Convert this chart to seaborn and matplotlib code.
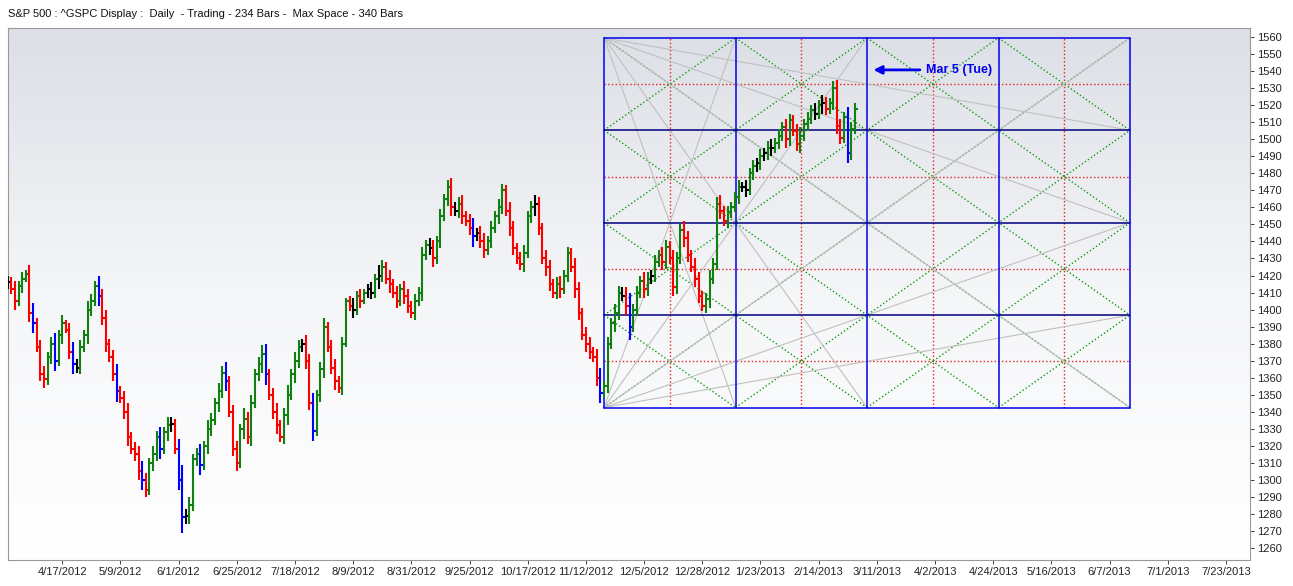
import numpy as np
import matplotlib
matplotlib.use("Agg")
import matplotlib.pyplot as plt
import seaborn as sns

# daily closes of ^GSPC, 234 bars
closes = [
    1416, 1412, 1405, 1414, 1418, 1421, 1398, 1392, 1378, 1362,
    1359, 1372, 1380, 1370, 1385, 1392, 1388, 1375, 1368, 1366,
    1378, 1385, 1400, 1405, 1414, 1408, 1395, 1380, 1372, 1362,
    1352, 1348, 1340, 1325, 1318, 1315, 1305, 1300, 1294, 1310,
    1315, 1325, 1318, 1328, 1332, 1333, 1318, 1300, 1278, 1279,
    1285, 1312, 1315, 1309, 1320, 1330, 1335, 1345, 1352, 1363,
    1358, 1340, 1318, 1310, 1330, 1336, 1325, 1345, 1362, 1368,
    1374, 1362, 1350, 1340, 1332, 1325, 1338, 1350, 1362, 1370,
    1378, 1380, 1370, 1345, 1329, 1350, 1365, 1390, 1378, 1366,
    1358, 1354, 1380, 1405, 1402, 1400, 1408, 1405, 1410, 1412,
    1410, 1418, 1420, 1425, 1418, 1415, 1410, 1405, 1412, 1408,
    1402, 1398, 1405, 1410, 1432, 1438, 1436, 1430, 1440, 1455,
    1465, 1472, 1460, 1458, 1462, 1455, 1452, 1448, 1443, 1445,
    1440, 1435, 1440, 1448, 1455, 1460, 1470, 1458, 1448, 1436,
    1430, 1427, 1433, 1455, 1460, 1462, 1448, 1430, 1425, 1415,
    1410, 1415, 1412, 1420, 1433, 1425, 1412, 1398, 1385, 1380,
    1375, 1372, 1360, 1351, 1355, 1380, 1392, 1398, 1410, 1408,
    1402, 1390, 1400, 1410, 1417, 1412, 1418, 1420, 1428, 1432,
    1428, 1437, 1430, 1413, 1430, 1447, 1442, 1432, 1425, 1418,
    1408, 1402, 1406, 1418, 1427, 1462, 1458, 1452, 1457, 1460,
    1466, 1472, 1472, 1470, 1480, 1484, 1486, 1490, 1492, 1495,
    1495, 1498, 1502, 1507, 1500, 1511, 1505, 1497, 1502, 1509,
    1512, 1517, 1515, 1520, 1521, 1518, 1521, 1530, 1508, 1501,
    1513, 1492, 1506, 1518,
]
# extra range beyond open/close for each bar
wicks = [
    4, 3, 5, 3, 4, 2, 5, 6, 3, 4,
    5, 3, 4, 6, 3, 5, 2, 4, 6, 3,
    4, 3, 5, 4, 3, 6, 4, 5, 3, 4,
    6, 3, 4, 5, 3, 4, 5, 6, 4, 3,
    5, 4, 6, 3, 5, 4, 3, 6, 9, 4,
    5, 3, 4, 6, 3, 5, 4, 3, 5, 4,
    6, 3, 4, 5, 3, 6, 4, 5, 3, 4,
    5, 6, 3, 4, 5, 3, 4, 6, 3, 5,
    4, 3, 5, 4, 6, 3, 4, 5, 3, 4,
    5, 3, 4, 2, 3, 5, 3, 4, 2, 3,
    4, 3, 6, 4, 3, 5, 3, 4, 3, 5,
    4, 3, 4, 3, 5, 3, 4, 5, 3, 4,
    3, 4, 5, 3, 4, 5, 3, 4, 6, 3,
    4, 5, 3, 4, 3, 5, 4, 3, 5, 4,
    3, 4, 5, 3, 4, 5, 4, 3, 5, 4,
    3, 4, 5, 3, 4, 3, 5, 4, 3, 5,
    4, 3, 5, 6, 3, 4, 3, 5, 4, 3,
    5, 8, 3, 4, 3, 5, 4, 3, 4, 3,
    5, 4, 3, 5, 4, 3, 5, 4, 3, 5,
    4, 3, 4, 5, 3, 4, 5, 3, 4, 3,
    3, 4, 3, 4, 3, 4, 3, 4, 3, 4,
    5, 3, 4, 3, 5, 4, 3, 4, 5, 3,
    4, 3, 4, 3, 5, 4, 3, 4, 5, 4,
    3, 6, 4, 3,
]
x_ticks = [15, 31, 47, 63, 79, 95, 111, 127, 143, 159, 175, 191, 207,
           223, 239, 255, 271, 287, 303, 319, 335]
x_labels = ["4/17/2012", "5/9/2012", "6/1/2012", "6/25/2012", "7/18/2012",
            "8/9/2012", "8/31/2012", "9/25/2012", "10/17/2012", "11/12/2012",
            "12/5/2012", "12/28/2012", "1/23/2013", "2/14/2013", "3/11/2013",
            "4/2/2013", "4/24/2013", "5/16/2013", "6/7/2013", "7/1/2013",
            "7/23/2013"]
# gann box: start bar, length in bars, price low/high
box_start, box_len = 164, 144.6
box_lo, box_hi = 1342.5, 1559.5

sns.set_theme(style="white")
plt.rcParams["font.family"] = ["Liberation Sans", "DejaVu Sans"]

fig = plt.figure(figsize=(12.93, 5.86), dpi=100)
ax = fig.add_axes([8 / 1293, 26 / 586, 1242 / 1293, 532 / 586])
xmin, xmax = 0.1, 341.6
ymin, ymax = 1253, 1565.3

# background gradient
grad = np.linspace(0, 1, 256).reshape(-1, 1)
cmap = matplotlib.colors.LinearSegmentedColormap.from_list("bg", ["#ffffff", "#f5f6f8", "#dcdfe6"])
ax.imshow(grad, aspect="auto", cmap=cmap, origin="lower",
          extent=[xmin, xmax, ymin, ymax], zorder=0)

# gann box
cw = box_len / 4
ch = (box_hi - box_lo) / 4
def bx(u):
    return box_start + u * cw
def by(v):
    return box_lo + v * ch

for k in np.arange(0.5, 4, 1):
    ax.plot([bx(k), bx(k)], [box_lo, box_hi], color="#e02020", ls=":", lw=1, zorder=1)
    ax.plot([bx(0), bx(4)], [by(k), by(k)], color="#e02020", ls=":", lw=1, zorder=1)
for k in range(-4, 5):
    u0, u1 = max(0, k), min(4, 4 + k)
    ax.plot([bx(u0), bx(u1)], [by(u0 - k), by(u1 - k)], color="#119911", ls=":", lw=1, zorder=1)
for k in range(0, 9):
    u0, u1 = max(0, k - 4), min(4, k)
    ax.plot([bx(u0), bx(u1)], [by(k - u0), by(k - u1)], color="#119911", ls=":", lw=1, zorder=1)
for (u, v) in [(1, 4), (2, 4), (4, 4), (4, 2), (4, 1)]:
    ax.plot([bx(0), bx(u)], [by(0), by(v)], color="#c0c0c0", lw=0.8, zorder=1)
for (u, v) in [(1, 0), (2, 0), (4, 0), (4, 2), (4, 3)]:
    ax.plot([bx(0), bx(u)], [by(4), by(v)], color="#c0c0c0", lw=0.8, zorder=1)
for k in range(5):
    ax.plot([bx(k), bx(k)], [box_lo, box_hi], color="#0000ee", lw=1.1, zorder=2)
    ax.plot([bx(0), bx(4)], [by(k), by(k)], color="#000080" if k in (1, 2, 3) else "#0000ee", lw=1.1, zorder=2)

# ohlc bars
for i, c in enumerate(closes):
    o = closes[i - 1] if i > 0 else c
    hi = max(o, c) + wicks[i]
    lo = min(o, c) - wicks[i]
    if abs(c - o) < 3:
        col = "black"
    elif wicks[i] >= 6 and c < o:
        col = "#0000ff"
    elif c > o:
        col = "#108010"
    else:
        col = "#ff0000"
    ax.vlines(i, lo, hi, color=col, lw=1.5, zorder=3)
    ax.hlines(c, i, i + 0.8, color=col, lw=1.5, zorder=3)

ax.annotate("Mar 5 (Tue)", xy=(237.3, 1540.7), xytext=(252.5, 1540.7),
            color="#0000ee", fontsize=9, fontweight="bold", va="center",
            arrowprops=dict(arrowstyle="-|>", color="#0000ee", lw=2, mutation_scale=12))

ax.set_xlim(xmin, xmax)
ax.set_ylim(ymin, ymax)
ax.yaxis.tick_right()
ax.set_yticks(range(1260, 1561, 10))
ax.set_xticks(x_ticks)
ax.set_xticklabels(x_labels)
ax.tick_params(axis="both", labelsize=8, length=3, width=0.6, colors="#222222")
ax.tick_params(axis="x", bottom=True, pad=2)
ax.tick_params(axis="y", right=True, pad=2)
for s in ax.spines.values():
    s.set_color("#999999")
    s.set_linewidth(0.8)

fig.text(8 / 1293, 1 - 14 / 586, "S&P 500 : ^GSPC Display :  Daily  - Trading - 234 Bars -  Max Space - 340 Bars",
         fontsize=8, va="center", ha="left", color="#111111")

fig.savefig("out.png", dpi=100)
